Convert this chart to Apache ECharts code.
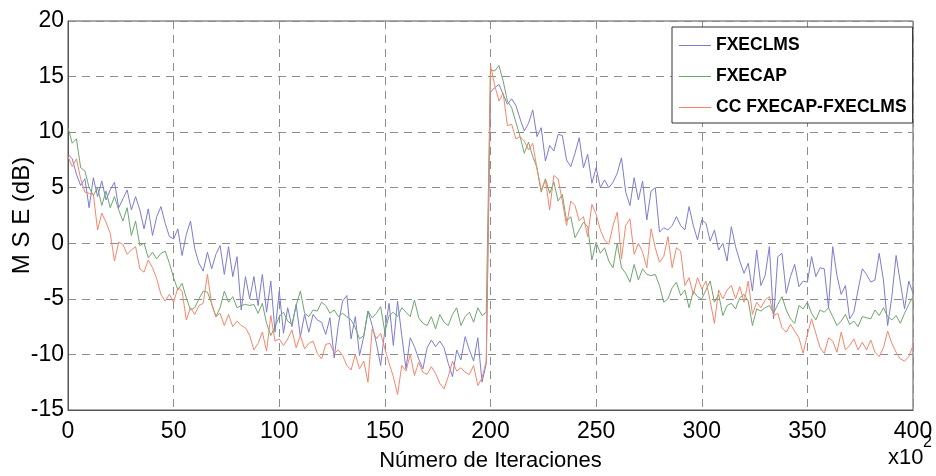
<!DOCTYPE html>
<html>
<head>
<meta charset="utf-8">
<script src="https://cdn.jsdelivr.net/npm/echarts@6/dist/echarts.min.js"></script>
<style>
html,body{margin:0;padding:0;background:#fff;}
#chart{width:936px;height:476px;}
</style>
</head>
<body>
<div id="chart"></div>
<script>
// Iterations (x10^2) sampled every 2 units
const iterations = Array.from({length: 201}, (_, k) => 2 * k);

const seriesNames = ['FXECLMS', 'FXECAP', 'CC FXECAP-FXECLMS'];

const fxeclms = [
  8.0, 7.6, 6.2, 5.2, 5.8, 3.2, 5.9, 4.2, 5.6, 3.9,
  4.8, 5.5, 3.2, 4.0, 4.8, 3.0, 4.2, 3.0, 1.3, 3.1,
  0.7, 2.4, 3.3, 1.8, 0.6, 0.4, 1.3, -1.1, 0.8, 2.0,
  -0.5, -1.8, -2.5, -0.8, -2.3, -1.0, -0.2, -2.8, -0.3, -3.0,
  -1.2, -6.0, -3.0, -5.0, -3.0, -5.6, -2.8, -6.2, -3.4, -8.0,
  -4.3, -8.1, -5.8, -7.5, -5.5, -8.4, -6.4, -8.0, -6.4, -6.9,
  -7.1, -8.2, -6.7, -10.3, -7.3, -5.2, -4.7, -8.6, -6.6, -10.1,
  -8.4, -6.1, -7.4, -9.0, -11.0, -7.8, -5.4, -9.2, -5.2, -8.3,
  -11.3, -8.5, -9.3, -10.4, -11.3, -9.4, -8.7, -9.3, -8.8, -9.4,
  -10.8, -12.0, -9.6, -10.5, -8.4, -9.6, -10.6, -8.5, -12.5, -10.8,
  13.6, 14.0, 14.3, 13.4, 12.5, 13.0, 12.4, 11.2, 10.1, 10.8,
  12.0, 9.6, 10.4, 7.4, 8.8, 8.3, 9.8, 9.7, 7.5, 6.9,
  8.1, 9.5, 6.8, 8.0, 5.4, 6.8, 5.0, 5.7, 5.0, 5.5,
  6.3, 7.7, 4.6, 3.4, 5.9, 3.9, 5.6, 2.1, 4.7, 5.0,
  1.0, 1.4, 1.2, 1.6, 2.4, 1.6, 1.2, 3.3, 1.6, 0.3,
  2.1, 1.8, 0.2, 1.2, -0.6, 0.0, -1.6, 1.5, -0.3, -1.6,
  -2.7, -1.8, -4.3, -0.6, -3.8, -2.9, -0.3, -6.8, -1.2, -0.9,
  -4.5, -3.0, -1.9, -3.9, -3.4, -3.5, -1.2, -3.0, -2.2, -2.3,
  -5.8, -0.3, -2.9, -4.6, -3.8, -6.8, -6.2, -4.2, -2.3, -2.8,
  -3.5, -3.3, -0.9, -3.3, -7.4, -4.8, -1.1, -3.5, -5.9, -3.4,
  -4.5
];

const fxecap = [
  10.4, 9.0, 9.4, 6.8, 6.5, 5.0, 4.3, 5.0, 3.4, 4.7,
  3.2, 4.2, 3.0, 2.0, 3.2, 0.7, 2.0, -0.2, 0.0, -1.3,
  -0.8, -1.4, -0.9, -0.7, -1.8, -3.1, -4.2, -3.6, -4.9, -6.0,
  -5.8, -5.0, -4.3, -4.4, -5.4, -6.6, -5.8, -4.3, -5.3, -4.8,
  -5.8, -5.6, -5.5, -5.6, -5.5, -6.3, -5.4, -7.2, -8.3, -7.5,
  -6.6, -6.2, -7.0, -7.3, -5.6, -4.3, -6.3, -6.6, -6.0, -6.1,
  -5.3, -5.6, -6.3, -6.0, -6.6, -6.3, -6.6, -6.9, -7.6, -8.6,
  -8.3, -6.1, -6.7, -6.3, -5.7, -8.0, -6.5, -6.2, -6.6, -5.8,
  -6.2, -6.6, -5.1, -6.7, -7.2, -7.4, -6.6, -7.7, -6.4, -7.1,
  -7.4, -6.4, -5.8, -7.4, -6.6, -6.2, -7.1, -5.8, -6.5, -6.2,
  15.6, 15.5, 16.0, 14.6, 12.8, 12.2, 10.9, 9.6, 8.1, 9.1,
  7.8, 6.8, 4.6, 5.8, 4.5, 5.5, 3.8, 4.4, 2.0, 2.4,
  0.5, 1.2, 1.9, 1.5, -1.5, 0.1, -0.9, -0.4, -1.6, -2.2,
  0.0, -2.2, -2.7, -3.5, -1.9, -3.3, -2.3, -2.8, -2.9, -2.8,
  -3.8, -5.3, -5.0, -4.0, -3.5, -4.7, -4.2, -5.8, -4.3, -4.8,
  -5.0, -4.2, -3.4, -5.3, -4.6, -6.5, -5.6, -5.4, -5.9, -4.9,
  -4.6, -5.2, -7.4, -5.9, -6.1, -5.8, -5.6, -6.3, -5.5, -4.8,
  -6.0, -6.8, -7.2, -5.6, -5.9, -5.3, -6.3, -6.9, -6.0, -6.2,
  -5.8, -6.6, -7.4, -7.0, -6.4, -7.3, -7.0, -7.5, -6.6, -6.7,
  -6.8, -6.0, -6.5, -5.8, -6.6, -6.9, -6.5, -7.2, -6.3, -5.5,
  -4.8
];

const ccFxecapFxeclms = [
  7.8, 6.9, 7.6, 5.8, 4.6, 4.5, 4.4, 1.2, 2.7, 1.9,
  0.9, -1.6, 0.1, -0.1, -1.0, -0.6, -0.3, -2.3, -2.6, -1.5,
  -2.2, -3.2, -4.6, -5.2, -4.6, -5.3, -4.0, -4.3, -6.9, -5.8,
  -6.4, -5.6, -5.4, -2.8, -5.5, -6.6, -6.3, -7.4, -6.4, -7.5,
  -7.0, -7.4, -7.6, -8.3, -9.6, -9.0, -8.0, -9.7, -6.5, -8.8,
  -8.6, -9.2, -8.6, -7.8, -9.4, -8.3, -9.5, -9.0, -8.8, -9.9,
  -10.4, -9.1, -9.0, -9.9, -9.6, -10.1, -11.0, -11.4, -10.0, -11.3,
  -10.6, -12.5, -7.7, -8.6, -8.1, -9.5, -10.8, -12.0, -13.6, -11.0,
  -11.5, -10.0, -11.9, -10.7, -11.6, -11.8, -11.1, -11.7, -12.6, -13.1,
  -12.0, -10.6, -11.5, -11.2, -11.6, -11.8, -11.0, -12.8, -12.1, -10.6,
  16.0, 14.2, 12.8, 13.5, 10.6, 10.7, 9.4, 9.6, 9.2, 8.4,
  9.0, 6.7, 4.8, 5.7, 3.0, 6.1, 5.8, 3.8, 1.6, 3.8,
  3.4, 2.0, 2.4, 0.6, 3.5, 2.6, 1.2, 0.3, -0.1, 1.6,
  2.8, -1.4, 1.6, 2.2, -1.0, 0.0, -0.8, -2.2, 1.3, -0.4,
  -1.7, -1.2, 0.6, -2.2, -0.4, -0.7, -3.8, -3.1, -4.6, -3.1,
  -4.1, -3.4, -5.2, -7.2, -4.2, -5.0, -4.2, -3.8, -5.0, -3.9,
  -5.3, -3.4, -6.4, -5.3, -5.8, -5.1, -4.8, -6.5, -6.3, -7.6,
  -8.0, -7.3, -7.9, -8.5, -9.9, -8.2, -6.8, -8.1, -9.4, -9.9,
  -8.5, -8.8, -9.8, -8.0, -9.6, -9.2, -8.6, -9.6, -8.9, -9.6,
  -8.7, -9.8, -10.2, -9.4, -7.9, -9.0, -9.8, -10.4, -10.6, -10.2,
  -9.2
];

const xTicks = {min: 0, max: 400, interval: 50};
const yTicks = {min: -15, max: 20, interval: 5};
const xTitle = 'Número de Iteraciones';
const yTitle = 'M S E (dB)';
const xScaleNote = 'x10';
const xScaleExp = '2';

const colors = ['#7c7cd4', '#6fa66f', '#f7866a'];
const sans = '"Liberation Sans", Arial, sans-serif';

const pairs = vals => iterations.map((x, k) => [x, vals[k]]);
const allValues = [fxeclms, fxecap, ccFxecapFxeclms];

const chart = echarts.init(document.getElementById('chart'), null, {renderer: 'canvas'});
const option = {
  animation: false,
  backgroundColor: '#fff',
  grid: {left: 68, right: 23, top: 21, bottom: 66, show: true, borderColor: '#555', borderWidth: 1,
         containLabel: false, outerBoundsMode: 'none'},
  legend: {
    data: seriesNames,
    orient: 'vertical',
    left: 672, top: 27,
    backgroundColor: '#fff',
    borderColor: '#333', borderWidth: 1,
    padding: [8, 6, 5, 7],
    itemGap: 10,
    itemWidth: 32, itemHeight: 1,
    icon: 'rect',
    textStyle: {fontFamily: sans, fontWeight: 'bold', fontSize: 17.5, color: '#000', lineHeight: 21}
  },
  xAxis: {
    type: 'value', min: xTicks.min, max: xTicks.max, interval: xTicks.interval,
    name: xTitle, nameLocation: 'middle', nameGap: 40, nameMoveOverlap: false,
    nameTextStyle: {fontFamily: sans, fontSize: 22, color: '#000'},
    axisLine: {show: true, onZero: false, lineStyle: {color: '#555', width: 1}},
    axisTick: {show: false},
    axisLabel: {fontFamily: sans, fontSize: 23, color: '#000', margin: 10},
    splitLine: {show: true, lineStyle: {color: '#8c8c8c', width: 1, type: [8, 6]}}
  },
  yAxis: {
    type: 'value', min: yTicks.min, max: yTicks.max, interval: yTicks.interval,
    name: yTitle, nameLocation: 'middle', nameGap: 34, nameMoveOverlap: false,
    nameTextStyle: {fontFamily: sans, fontSize: 24, color: '#000'},
    axisLine: {show: true, onZero: false, lineStyle: {color: '#555', width: 1}},
    axisTick: {show: false},
    axisLabel: {fontFamily: sans, fontSize: 23, color: '#000', margin: 4},
    splitLine: {show: true, lineStyle: {color: '#8c8c8c', width: 1, type: [8, 6]}}
  },
  graphic: [
    {type: 'text', left: 888, top: 447, style: {text: xScaleNote, font: '22px ' + sans, fill: '#000'}},
    {type: 'text', left: 923, top: 435, style: {text: xScaleExp, font: '16px ' + sans, fill: '#000'}}
  ],
  series: seriesNames.map((n, s) => ({
    name: n, type: 'line', data: pairs(allValues[s]),
    showSymbol: false, symbol: 'none',
    lineStyle: {color: colors[s], width: 1},
    itemStyle: {color: colors[s]},
    emphasis: {disabled: true}
  }))
};
chart.setOption(option);
</script>
</body>
</html>
